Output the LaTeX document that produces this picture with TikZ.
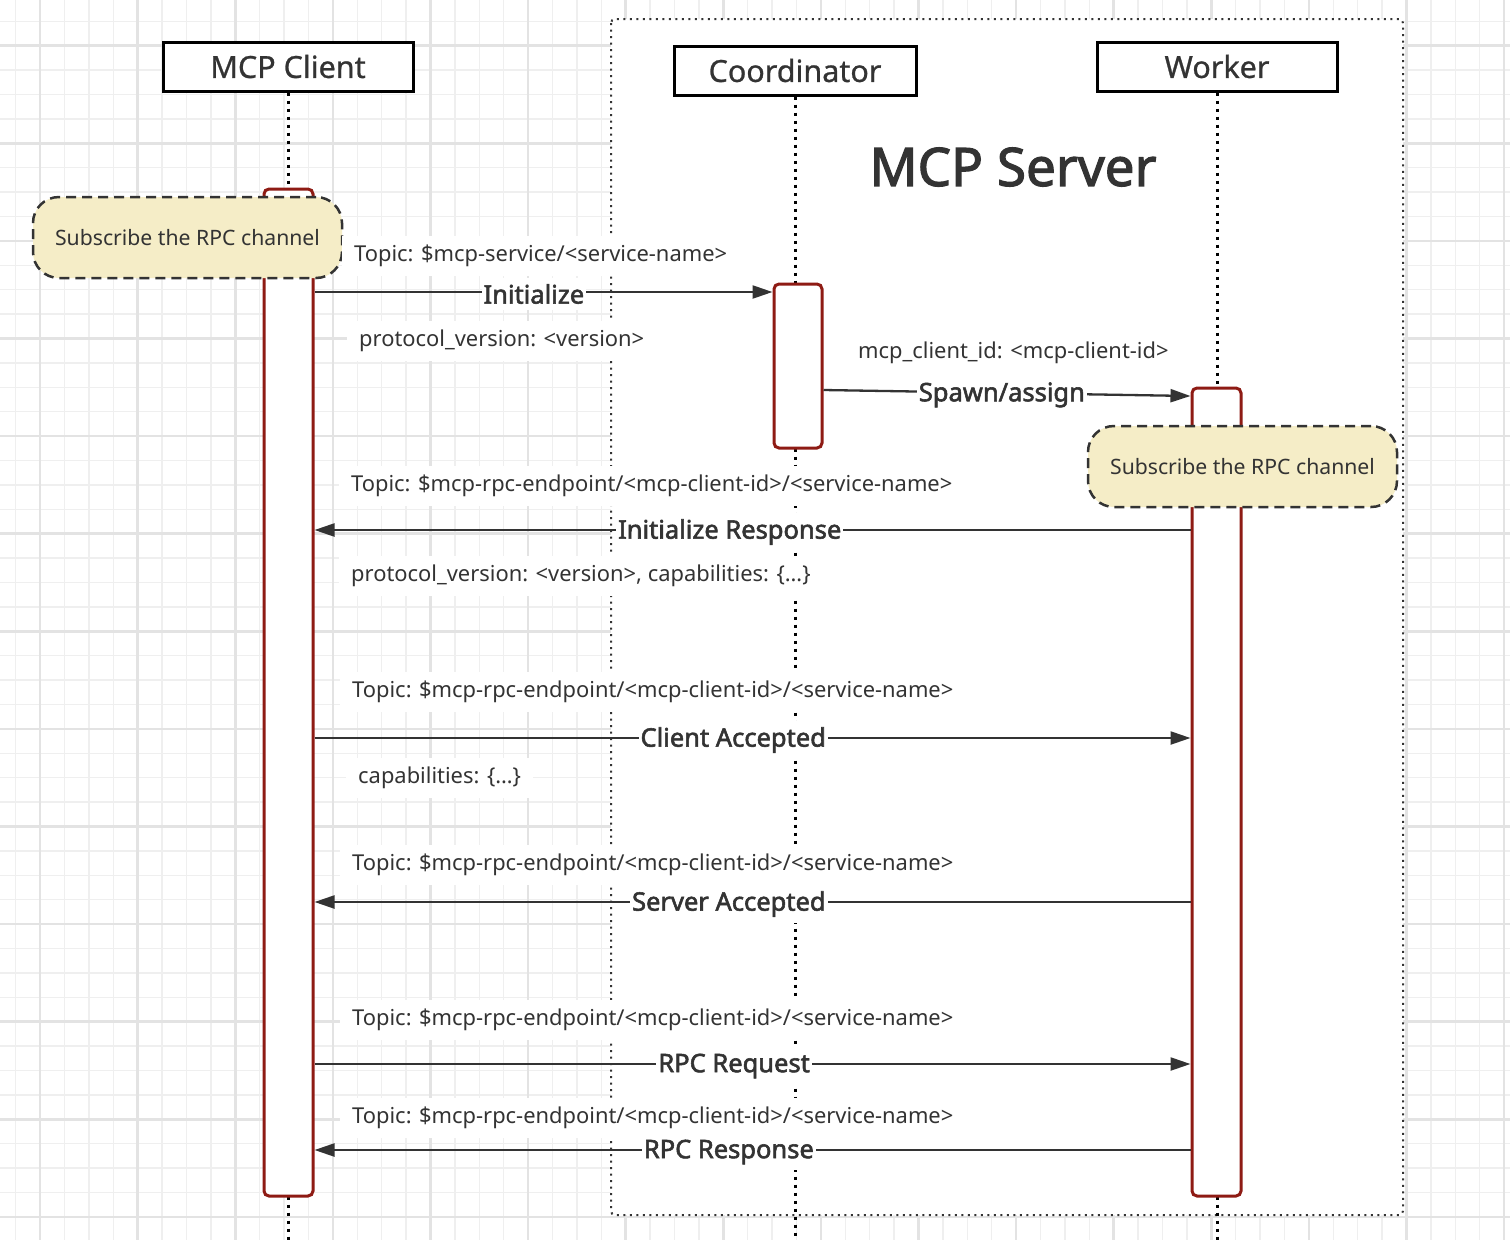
\documentclass[tikz,border=0pt]{standalone}
\usepackage{fontspec}
\setmainfont{Noto Sans}
\newfontfamily\boldface{Noto Sans}[FakeBold=2.2]
\newfontfamily\semiface{Noto Sans}[FakeBold=0.8]
\usetikzlibrary{arrows.meta}
\definecolor{txt}{HTML}{333333}
\definecolor{actred}{HTML}{8E1B14}
\definecolor{notefill}{HTML}{F5EDC7}
\definecolor{gridminor}{HTML}{EFEFEF}
\definecolor{gridmajor}{HTML}{E3E3E3}
\definecolor{arrowc}{HTML}{333333}
\tikzset{
  hdr/.style={draw=black, line width=3pt, fill=white, text=txt, minimum height=49pt,
    font=\semiface\fontsize{30.5}{35}\selectfont, inner sep=0pt},
  actbox/.style={draw=actred, line width=3pt, fill=white, rounded corners=5pt,
    minimum width=49pt, inner sep=0pt},
  lifeline/.style={draw=black, line width=3pt, dash pattern=on 3pt off 5pt},
  srvbox/.style={draw=txt, line width=2pt, fill=white, rounded corners=4pt,
    dash pattern=on 2pt off 4.5pt},
  notebox/.style={draw=txt, line width=2.5pt, fill=notefill, rounded corners=26pt,
    dash pattern=on 10pt off 6pt, minimum width=309pt, minimum height=81pt,
    text=txt, font=\fontsize{21.2}{25}\selectfont, inner sep=0pt},
  msg/.style={draw=arrowc, line width=2.3pt, -{Triangle[length=20pt,width=13pt]}},
  msglabel/.style={fill=white, text=txt, font=\boldface\fontsize{25.5}{30}\selectfont,
    inner xsep=2pt, inner ysep=6pt, yshift=-2pt},
  topic/.style={fill=white, text=txt, font=\fontsize{21.9}{26}\selectfont,
    inner xsep=12pt, inner ysep=9pt, anchor=west, yshift=-3pt},
}
\begin{document}
\begin{tikzpicture}[x=1pt,y=-1pt]
\useasboundingbox (0,0) rectangle (1510,1240);
\fill[white] (0,0) rectangle (1510,1240);
% grid
\foreach \i in {0,...,62} {\draw[gridminor, line width=1.5pt] ({15.7+24.4*\i},0) -- ({15.7+24.4*\i},1240);}
\foreach \i in {0,...,51} {\draw[gridminor, line width=1.5pt] (0,{21.3+24.4*\i}) -- (1510,{21.3+24.4*\i});}
\foreach \i in {0,...,15} {\draw[gridmajor, line width=2.5pt] ({40.1+97.6*\i},0) -- ({40.1+97.6*\i},1240);}
\foreach \i in {0,...,12} {\draw[gridmajor, line width=2.5pt] (0,{45.7+97.6*\i}) -- (1510,{45.7+97.6*\i});}

% server box
\draw[srvbox] (611,19) rectangle (1403,1215);
\node[text=txt, font=\boldface\fontsize{53}{60}\selectfont] (srvtitle) at (1013,167) {MCP Server};

% headers
\node[hdr, minimum width=250pt] (client) at (288,66.5) {MCP Client};
\node[hdr, minimum width=242pt] (coord) at (795,70.5) {Coordinator};
\node[hdr, minimum width=240pt] (worker) at (1217,66.5) {Worker};

\coordinate (clientEnd) at (288,1240);
\coordinate (coordEnd) at (795,1240);
\coordinate (workerEnd) at (1217,1240);

% lifelines
\draw[lifeline] (client.south) -- (clientEnd);
\draw[lifeline] (coord.south) -- (coordEnd);
\draw[lifeline] (worker.south) -- (workerEnd);

% activations
\node[actbox, minimum height=1007pt] (clientAct) at (288.5,692.5) {};
\node[actbox, minimum height=164pt, minimum width=48pt] (coordAct) at (798,366) {};
\node[actbox, minimum height=808pt] (workerAct) at (1216.5,792) {};

% notes
\node[notebox] (note1) at (187.5,237.5) {Subscribe the RPC channel};
\node[notebox] (note2) at (1242.5,466.5) {Subscribe the RPC channel};

% y-levels
\coordinate (y1) at (0,292);
\coordinate (y2a) at (0,390);
\coordinate (y2b) at (0,396);
\coordinate (y3) at (0,530);
\coordinate (y4) at (0,738);
\coordinate (y5) at (0,902);
\coordinate (y6) at (0,1064);
\coordinate (y7) at (0,1150);

% topic labels
\node[topic] (t1) at (342,253) {Topic: \$mcp-service/<service-name>};
\node[topic] (p1) at (347,338) {protocol\_version: <version>};
\node[topic] (c2) at (846,350) {mcp\_client\_id: <mcp-client-id>};
\node[topic] (t3) at (339,483) {Topic: \$mcp-rpc-endpoint/<mcp-client-id>/<service-name>};
\node[topic] (p3) at (339,573) {protocol\_version: <version>, capabilities: \{…\}};
\node[topic] (t4) at (340,689) {Topic: \$mcp-rpc-endpoint/<mcp-client-id>/<service-name>};
\node[topic] (c4) at (346,775) {capabilities: \{…\}};
\node[topic] (t5) at (340,862) {Topic: \$mcp-rpc-endpoint/<mcp-client-id>/<service-name>};
\node[topic] (t6) at (340,1017) {Topic: \$mcp-rpc-endpoint/<mcp-client-id>/<service-name>};
\node[topic] (t7) at (340,1115) {Topic: \$mcp-rpc-endpoint/<mcp-client-id>/<service-name>};

% messages
\draw[msg] (clientAct.east |- y1) -- node[msglabel, pos=0.479] (m1) {Initialize} (coordAct.west |- y1);
\draw[msg] (coordAct.east |- y2a) -- node[msglabel, pos=0.486] (m2) {Spawn/assign} (workerAct.west |- y2b);
\draw[msg] (workerAct.west |- y3) -- node[msglabel, pos=0.526] (m3) {Initialize Response} (clientAct.east |- y3);
\draw[msg] (clientAct.east |- y4) -- node[msglabel, pos=0.478] (m4) {Client Accepted} (workerAct.west |- y4);
\draw[msg] (workerAct.west |- y5) -- node[msglabel, pos=0.527] (m5) {Server Accepted} (clientAct.east |- y5);
\draw[msg] (clientAct.east |- y6) -- node[msglabel, pos=0.479] (m6) {RPC Request} (workerAct.west |- y6);
\draw[msg] (workerAct.west |- y7) -- node[msglabel, pos=0.527] (m7) {RPC Response} (clientAct.east |- y7);
\end{tikzpicture}
\end{document}
